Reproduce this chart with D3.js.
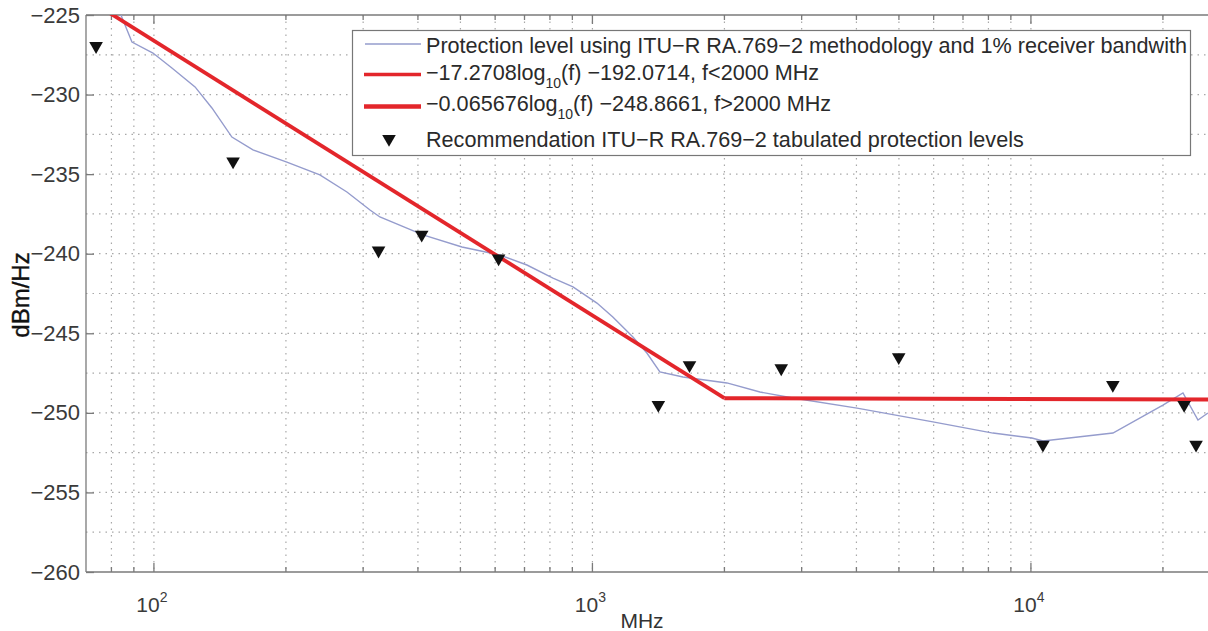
<!DOCTYPE html>
<html>
<head>
<meta charset="utf-8">
<script src="https://cdn.jsdelivr.net/npm/d3@7"></script>
<style>
  html, body { margin: 0; padding: 0; background: #fff; }
  svg { display: block; font-family: "Liberation Sans", Arial, sans-serif; }
</style>
</head>
<body>
<svg id="chart" width="1208" height="631"></svg>
<script>
// ---------------- DATA ----------------
// Protection level using ITU-R RA.769-2 methodology and 1% receiver bandwidth
const blueFreq = [84.1, 89.1, 99.5, 109.9, 124.1, 135.6, 150.6, 168.2, 201, 239, 275.5, 311, 327.6, 410.8,
  504, 615, 709, 813, 903, 1024, 1113, 1237, 1331, 1425, 1609, 2026, 2410, 2866, 4012, 5977, 8193,
  10053, 10652, 15382, 20000, 22220, 24040, 25330];
const blueLevel = [-225.0, -226.7, -227.39, -228.33, -229.52, -230.84, -232.67, -233.48, -234.24, -235.05,
  -236.12, -237.25, -237.69, -238.82, -239.58, -240.08, -240.71, -241.53, -242.09, -243.10, -243.98,
  -245.23, -246.24, -247.43, -247.75, -248.12, -248.69, -249.07, -249.70, -250.57, -251.27, -251.58,
  -251.77, -251.27, -249.51, -248.75, -250.45, -250.01];

// Fit f < 2000 MHz : -17.2708 log10(f) - 192.0714
const fitLowFreq = [70, 2000];
const fitLowLevel = [-223.94, -249.08];
// Fit f > 2000 MHz : -0.065676 log10(f) - 248.8661
const fitHighFreq = [2000, 30000];
const fitHighLevel = [-249.08, -249.16];

// Recommendation ITU-R RA.769-2 tabulated protection levels
const tabFreq = [73.8, 151.525, 325.3, 408.05, 611, 1413.5, 1665, 2695, 4995, 10650, 15375, 22355, 23800];
const tabLevel = [-226.95, -234.2, -239.8, -238.8, -240.3, -249.5, -247.0, -247.2, -246.5, -252.0, -248.25, -249.5, -252.0];

const yTicks = [-225, -230, -235, -240, -245, -250, -255, -260];
const yGrid = [-227.5, -230, -232.5, -235, -237.5, -240, -242.5, -245, -247.5, -250, -252.5, -255, -257.5];
const xDecades = [100, 1000, 10000];
const xDecadeExp = ["2", "3", "4"];
const xMinor = [70, 80, 90, 200, 300, 400, 500, 600, 700, 800, 900, 2000, 3000, 4000, 5000, 6000, 7000, 8000, 9000, 20000, 30000];

const legendLabels = [
  "Protection level using ITU\u2212R RA.769\u22122 methodology and 1% receiver bandwith",
  ["\u221217.2708log", "10", "(f) \u2212192.0714, f<2000 MHz"],
  ["\u22120.065676log", "10", "(f) \u2212248.8661, f>2000 MHz"],
  "Recommendation ITU\u2212R RA.769\u22122 tabulated protection levels"
];

// ---------------- LAYOUT ----------------
const svg = d3.select("#chart");
const pLeft = 86, pTop = 15, pBottom = 572;
const decadePx = 438.5;
const xMin = 70, xMax = 30000;
const pRight = pLeft + decadePx * Math.log10(xMax / xMin);

const x = d3.scaleLog().domain([xMin, xMax]).range([pLeft, pRight]);
const y = d3.scaleLinear().domain([-260, -225]).range([pBottom, pTop]);

const fontSize = 22;
const gridColor = "#a8a8a8";
const axisColor = "#7a7a7a";

svg.append("defs").append("clipPath").attr("id", "plotclip")
  .append("rect").attr("x", pLeft).attr("y", pTop).attr("width", pRight - pLeft).attr("height", pBottom - pTop);

// Grid
const grid = svg.append("g");
grid.selectAll("line.hg").data(yGrid).join("line")
  .attr("x1", pLeft).attr("x2", 1208).attr("y1", d => y(d)).attr("y2", d => y(d))
  .attr("stroke", gridColor).attr("stroke-width", 1.2).attr("stroke-dasharray", "1.5,5");
grid.selectAll("line.vg").data(xDecades.concat(xMinor).filter(d => d > xMin)).join("line")
  .attr("x1", d => x(d)).attr("x2", d => x(d)).attr("y1", pTop).attr("y2", pBottom)
  .attr("stroke", gridColor).attr("stroke-width", 1.2).attr("stroke-dasharray", "1.5,5");

// Axes frame
const ax = svg.append("g").attr("stroke", axisColor).attr("stroke-width", 1.3);
ax.append("line").attr("x1", pLeft).attr("x2", 1208).attr("y1", pTop).attr("y2", pTop);
ax.append("line").attr("x1", pLeft).attr("x2", 1208).attr("y1", pBottom).attr("y2", pBottom);
ax.append("line").attr("x1", pLeft).attr("x2", pLeft).attr("y1", pTop).attr("y2", pBottom);

// Y axis (ticks inside) via d3 axis
const yAxis = d3.axisLeft(y).tickValues(yTicks).tickSize(-8).tickFormat(d => String(d).replace("-", "\u2212"));
const gy = svg.append("g").attr("transform", `translate(${pLeft},0)`).call(yAxis);
gy.select(".domain").remove();
gy.attr("font-family", "Liberation Sans, Arial, sans-serif").attr("font-size", fontSize);
gy.selectAll(".tick line").attr("stroke", axisColor).attr("stroke-width", 1.3);
gy.selectAll(".tick text").attr("x", -6).attr("font-size", fontSize).attr("fill", "#3a3a3a");

// X ticks inside (bottom & top)
const xt = svg.append("g").attr("stroke", axisColor).attr("stroke-width", 1.3);
xDecades.forEach(d => {
  xt.append("line").attr("x1", x(d)).attr("x2", x(d)).attr("y1", pBottom).attr("y2", pBottom - 9);
  xt.append("line").attr("x1", x(d)).attr("x2", x(d)).attr("y1", pTop).attr("y2", pTop + 9);
});
xMinor.filter(d => d > xMin).forEach(d => {
  xt.append("line").attr("x1", x(d)).attr("x2", x(d)).attr("y1", pBottom).attr("y2", pBottom - 5);
  xt.append("line").attr("x1", x(d)).attr("x2", x(d)).attr("y1", pTop).attr("y2", pTop + 5);
});

// X tick labels 10^n
xDecades.forEach((d, i) => {
  const t = svg.append("text").attr("x", x(d) - 2).attr("y", 612).attr("text-anchor", "middle")
    .attr("font-size", 21).attr("fill", "#3a3a3a");
  t.append("tspan").text("10");
  t.append("tspan").attr("dy", -10).attr("font-size", 14).text(xDecadeExp[i]);
});

// Axis labels
svg.append("text").attr("x", 642).attr("y", 628).attr("text-anchor", "middle")
  .attr("font-size", 21).attr("fill", "#333").text("MHz");
svg.append("text").attr("transform", "translate(29,295) rotate(-90)").attr("text-anchor", "middle")
  .attr("font-size", 24).attr("fill", "#111").attr("stroke", "#111").attr("stroke-width", 0.4).text("dBm/Hz");

// Plot content
const plot = svg.append("g").attr("clip-path", "url(#plotclip)");
const line = d3.line().x(d => x(d[0])).y(d => y(d[1]));

plot.append("path").datum(blueFreq.map((f, i) => [f, blueLevel[i]]))
  .attr("d", line).attr("fill", "none").attr("stroke", "#959ccd").attr("stroke-width", 1.4);
plot.append("path").datum(fitLowFreq.map((f, i) => [f, fitLowLevel[i]]))
  .attr("d", line).attr("fill", "none").attr("stroke", "#e3262b").attr("stroke-width", 3.8);
plot.append("path").datum(fitHighFreq.map((f, i) => [f, fitHighLevel[i]]))
  .attr("d", line).attr("fill", "none").attr("stroke", "#e3262b").attr("stroke-width", 4);

const tri = d3.symbol().type(d3.symbolTriangle).size(80);
plot.selectAll("path.mk").data(tabFreq.map((f, i) => [f, tabLevel[i]])).join("path")
  .attr("d", tri)
  .attr("transform", d => `translate(${x(d[0])},${y(d[1])}) rotate(180)`)
  .attr("fill", "#111");

// Legend
const lg = svg.append("g");
lg.append("rect").attr("x", 352.5).attr("y", 30.5).attr("width", 838).attr("height", 125)
  .attr("fill", "#fff").attr("stroke", "#777").attr("stroke-width", 1.2);
const lineY = [44, 74.5, 106.5, 139];
const baseY = [52.5, 80, 111, 147];
lg.append("line").attr("x1", 365).attr("x2", 421).attr("y1", lineY[0]).attr("y2", lineY[0])
  .attr("stroke", "#959ccd").attr("stroke-width", 1.4);
lg.append("line").attr("x1", 364).attr("x2", 421).attr("y1", lineY[1]).attr("y2", lineY[1])
  .attr("stroke", "#e3262b").attr("stroke-width", 3.4);
lg.append("line").attr("x1", 364).attr("x2", 421).attr("y1", lineY[2]).attr("y2", lineY[2])
  .attr("stroke", "#e3262b").attr("stroke-width", 4.4);
lg.append("path").attr("d", tri).attr("transform", `translate(389,${lineY[3]}) rotate(180)`).attr("fill", "#111");

legendLabels.forEach((lab, i) => {
  const t = lg.append("text").attr("x", 426).attr("y", baseY[i]).attr("font-size", 21.6).attr("fill", "#2a2a2a");
  if (typeof lab === "string") {
    t.text(lab);
  } else {
    t.append("tspan").text(lab[0]);
    t.append("tspan").attr("dy", 8).attr("font-size", 14).text(lab[1]);
    t.append("tspan").attr("dy", -8).text(lab[2]);
  }
});
</script>
</body>
</html>
